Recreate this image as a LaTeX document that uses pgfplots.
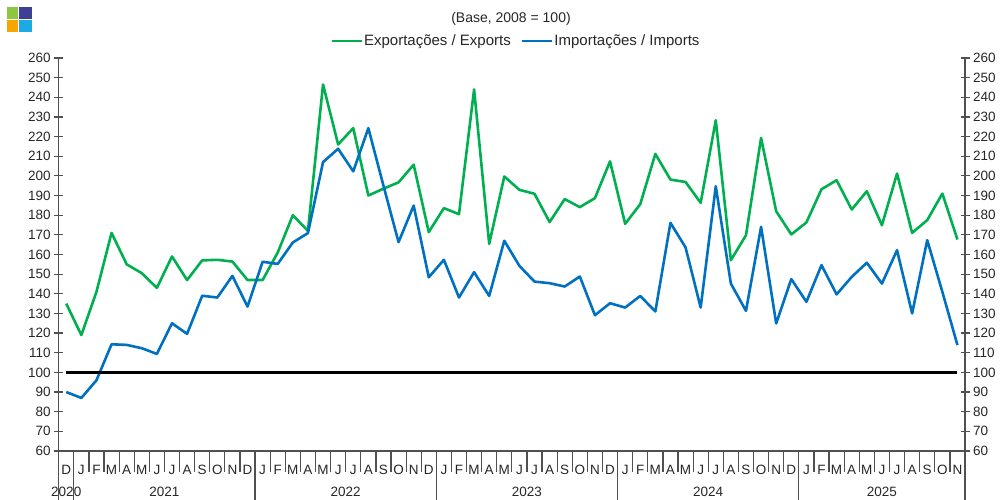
\documentclass[border=0pt]{standalone}
\usepackage{fontspec}
\setmainfont{Liberation Sans}
\usepackage{pgfplots}
\usepackage{pgfplotstable}
\pgfplotsset{compat=1.18}
\definecolor{expg}{RGB}{0,176,80}
\definecolor{impb}{RGB}{0,112,192}
\definecolor{axc}{RGB}{80,80,80}
\definecolor{txc}{RGB}{38,38,38}
\definecolor{lgG}{RGB}{141,198,63}
\definecolor{lgP}{RGB}{63,63,150}
\definecolor{lgO}{RGB}{247,166,0}
\definecolor{lgB}{RGB}{27,170,225}

\pgfplotstableread{
i exp imp
0 135 90
1 119 87
2 141 96
3 171 114.3
4 155 114
5 150.5 112.3
6 143 109.4
7 159 125
8 147 119.6
9 157 139
10 157.3 138.1
11 156.4 149.1
12 147 133.5
13 147 156.3
14 161 155.2
15 180 166.1
16 172 170.9
17 246.5 207
18 216 213.8
19 224.3 202.3
20 190 224.3
21 193.5 195
22 196.7 166.3
23 205.7 184.9
24 171.4 148.4
25 183.6 157.3
26 180.5 138.1
27 244 151
28 165.4 138.9
29 199.7 167
30 192.9 154.2
31 190.9 146.2
32 176.5 145.4
33 188.2 143.7
34 184.1 148.8
35 188.7 129.1
36 207.4 135.2
37 175.6 133
38 185.6 138.9
39 211.2 131
40 198.1 176.1
41 196.9 163.6
42 186.3 133
43 228.3 194.7
44 157.1 145.2
45 169.8 131.3
46 219.3 174.1
47 182 124.9
48 170.2 147.5
49 176.3 135.9
50 193.2 154.6
51 197.8 139.7
52 182.9 148.6
53 192.2 155.8
54 174.9 145.2
55 201.2 162.2
56 171 130
57 177.5 167.3
58 191 141
59 167.6 113.9
}\datatab

\begin{document}
\begin{tikzpicture}
\useasboundingbox (0pt,0pt) rectangle (1005pt,500pt);
% logo
\fill[lgG] (7.3pt,481pt) rectangle (18.3pt,492.7pt);
\fill[lgP] (19.3pt,481pt) rectangle (31.7pt,492.7pt);
\fill[lgO] (7.3pt,467.7pt) rectangle (18.3pt,480pt);
\fill[lgB] (19.3pt,467.7pt) rectangle (31.7pt,480pt);
\node[font=\fontsize{14}{16}\selectfont, text=txc] at (511pt,481pt) {(Base, 2008 = 100)};

\begin{axis}[
  at={(58.7pt,49pt)}, anchor=south west,
  scale only axis, width=906.3pt, height=393pt,
  xmin=-0.5, xmax=59.5, ymin=60, ymax=260,
  clip=false,
  axis x line*=bottom, axis y line*=left,
  axis line style={axc, line width=1.2pt, -},
  tick align=center, major tick length=9pt,
  every tick/.style={axc, line width=1.2pt},
  ytick={60,70,...,260},
  xtick={0,...,59},
  xtick style={draw=none},
  xticklabels={D,J,F,M,A,M,J,J,A,S,O,N,D,J,F,M,A,M,J,J,A,S,O,N,D,J,F,M,A,M,J,J,A,S,O,N,D,J,F,M,A,M,J,J,A,S,O,N,D,J,F,M,A,M,J,J,A,S,O,N},
  xticklabel style={anchor=base, yshift=-19.5pt, font=\fontsize{13.5}{15}\selectfont, text=txc, inner sep=0pt},
  yticklabel style={font=\fontsize{13.5}{15}\selectfont, text=txc},
  /pgf/number format/assume math mode=true,
  legend columns=2,
  legend style={draw=none, fill=none, at={(0.504,1.0433)}, anchor=center,
    font=\fontsize{15}{17}\selectfont, text=txc,
    /tikz/every even column/.append style={column sep=9pt},
    nodes={inner sep=1pt}},
  legend image code/.code={\draw[#1, line width=2.6pt] (0pt,0pt) -- (30pt,0pt);},
]
\addplot[expg, line width=2.6pt, line join=round] table[x=i,y=exp]{\datatab};
\addlegendentry{Exportações / Exports}
\addplot[impb, line width=2.6pt, line join=round] table[x=i,y=imp]{\datatab};
\addlegendentry{Importações / Imports}
\addplot[black, line width=2.6pt, forget plot] coordinates {(0,100) (59,100)};
\pgfplotsinvokeforeach{-0.5,0.5,...,59.5}{
  \draw[axc, line width=1.2pt] (axis cs:#1,60) -- ++(0pt,-21pt);
}
\pgfplotsinvokeforeach{-0.5,0.5,12.5,24.5,36.5,48.5,59.5}{
  \draw[axc, line width=1.2pt] (axis cs:#1,60) -- ++(0pt,-49pt);
}
\node[font=\fontsize{13.5}{15}\selectfont, text=txc, yshift=-41pt] at (axis cs:0,60) {2020};
\node[font=\fontsize{13.5}{15}\selectfont, text=txc, yshift=-41pt] at (axis cs:6.5,60) {2021};
\node[font=\fontsize{13.5}{15}\selectfont, text=txc, yshift=-41pt] at (axis cs:18.5,60) {2022};
\node[font=\fontsize{13.5}{15}\selectfont, text=txc, yshift=-41pt] at (axis cs:30.5,60) {2023};
\node[font=\fontsize{13.5}{15}\selectfont, text=txc, yshift=-41pt] at (axis cs:42.5,60) {2024};
\node[font=\fontsize{13.5}{15}\selectfont, text=txc, yshift=-41pt] at (axis cs:54,60) {2025};
\end{axis}

\begin{axis}[
  at={(58.7pt,49pt)}, anchor=south west,
  scale only axis, width=906.3pt, height=393pt,
  xmin=-0.5, xmax=59.5, ymin=60, ymax=260,
  axis x line=none, axis y line*=right,
  axis line style={axc, line width=1.2pt, -},
  tick align=center, major tick length=9pt,
  every tick/.style={axc, line width=1.2pt},
  ytick={60,70,...,260},
  yticklabel style={font=\fontsize{13.5}{15}\selectfont, text=txc},
  /pgf/number format/assume math mode=true,
]
\addplot[draw=none] coordinates {(0,100)};
\end{axis}
\end{tikzpicture}
\end{document}
